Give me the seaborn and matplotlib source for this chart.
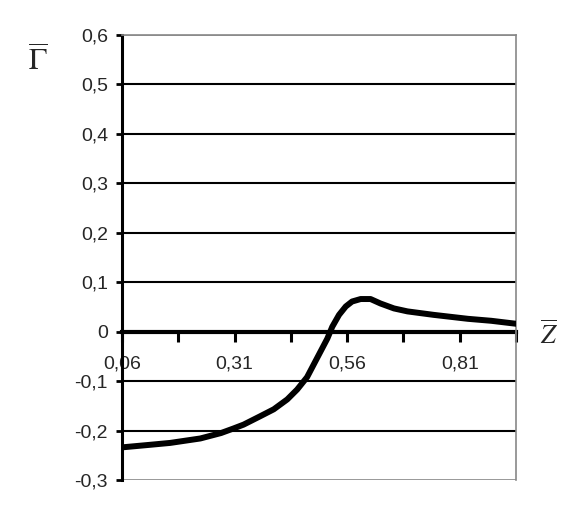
import matplotlib
matplotlib.use("Agg")
import matplotlib.pyplot as plt
import seaborn as sns
import pandas as pd
from matplotlib.ticker import FuncFormatter

z_values = [0.06, 0.12, 0.167, 0.234, 0.28, 0.307, 0.330, 0.367, 0.397, 0.427, 0.449,
            0.471, 0.486, 0.501, 0.516, 0.527, 0.542, 0.557, 0.571, 0.590, 0.612,
            0.634, 0.664, 0.694, 0.752, 0.828, 0.88, 0.935]
gamma_values = [-0.234, -0.229, -0.225, -0.216, -0.205, -0.196, -0.188, -0.171, -0.157,
                -0.137, -0.117, -0.092, -0.066, -0.040, -0.014, 0.010, 0.034, 0.051,
                0.061, 0.066, 0.066, 0.057, 0.047, 0.041, 0.034, 0.026, 0.022, 0.016]
x_major = [0.06, 0.31, 0.56, 0.81]
x_minor = [0.185, 0.435, 0.685, 0.935]
y_ticks = [-0.3, -0.2, -0.1, 0.0, 0.1, 0.2, 0.3, 0.4, 0.5, 0.6]

sns.set_style("white")
plt.rcParams['font.family'] = ['Liberation Sans', 'DejaVu Sans']

df = pd.DataFrame({"z": z_values, "g": gamma_values})

fig = plt.figure(figsize=(5.77, 5.14), dpi=100)
ax = fig.add_axes([122/577, 34/514, (516-122)/577, (480-35)/514])

# grid lines
for yv in y_ticks:
    if yv == 0.0:
        continue
    if yv in (-0.3, 0.6):
        ax.axhline(yv, color="#888888", lw=1.2, zorder=1)
    else:
        ax.axhline(yv, color="black", lw=1.5, zorder=1)

sns.lineplot(data=df, x="z", y="g", ax=ax, color="black", lw=4.3, zorder=3)
for line in ax.lines:
    line.set_solid_joinstyle("round")
    line.set_solid_capstyle("round")

ax.set_xlim(0.06, 0.935)
ax.set_ylim(-0.3, 0.6)

for s in ("top", "right"):
    ax.spines[s].set_visible(True)
    ax.spines[s].set_color("#888888")
    ax.spines[s].set_linewidth(1.2)
ax.spines["left"].set_color("black")
ax.spines["left"].set_linewidth(2.2)
ax.spines["bottom"].set_position(("data", 0))
ax.spines["bottom"].set_color("black")
ax.spines["bottom"].set_linewidth(3)
ax.spines["bottom"].set_zorder(2)

ax.set_xticks(x_major)
ax.set_xticks(x_minor, minor=True)
ax.set_xticklabels([f"{v:.2f}".replace(".", ",") for v in x_major])
ax.tick_params(axis="x", which="both", direction="out", length=7, width=2.2,
               color="black", labelsize=14, pad=10, bottom=True)
ax.set_yticks(y_ticks)
ax.yaxis.set_major_formatter(FuncFormatter(
    lambda v, p: "0" if abs(v) < 1e-9 else f"{v:.1f}".replace(".", ",")))
ax.tick_params(axis="y", direction="out", length=4, width=2, color="black",
               labelsize=14, pad=6, left=True)
ax.set_xlabel("")
ax.set_ylabel("")

fig.text(38/577, 1 - 62/514, r"$\overline{\Gamma}$", fontsize=22, ha="center",
         va="center", math_fontfamily="stix")
fig.text(549/577, 1 - 334/514, r"$\overline{Z}$", fontsize=19, ha="center",
         va="center", math_fontfamily="stix")

fig.savefig("out.png", dpi=100, facecolor="white")
